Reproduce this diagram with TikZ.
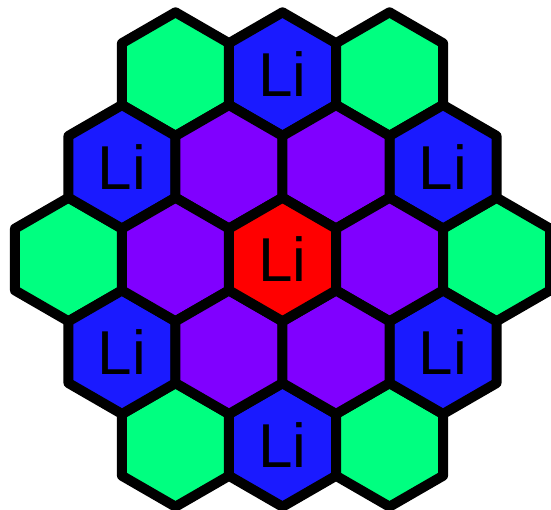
\documentclass[tikz,border=0pt]{standalone}
\usepackage{fontspec}
\setmainfont{Liberation Sans}
\usetikzlibrary{shapes.geometric}
\definecolor{ringgreen}{RGB}{0,255,128}
\definecolor{liblue}{RGB}{26,26,255}
\definecolor{ringpurple}{RGB}{128,0,255}
\definecolor{lired}{RGB}{255,0,0}

\begin{document}
\begin{tikzpicture}[x=1pt, y=1pt,
    hexcell/.style={regular polygon, regular polygon sides=6,
      shape border rotate=30, minimum size=123.6pt, inner sep=0pt,
      draw=black, line width=10pt, line join=round,
      font=\fontsize{62}{62}\selectfont}]
  \useasboundingbox (0,0) rectangle (551,510);

  % outer ring, empty sites
  \foreach [count=\i] \q/\r in {-2/2, 2/2, -4/0, 4/0, -2/-2, 2/-2}
    \node[hexcell, fill=ringgreen] (g\i) at ({282.5+53.5*\q},{250.5+92.7*\r}) {};
  % outer ring, Li sites
  \foreach [count=\i] \q/\r in {0/2, -3/1, 3/1, -3/-1, 3/-1, 0/-2}
    \node[hexcell, fill=liblue] (b\i) at ({282.5+53.5*\q},{250.5+92.7*\r}) {Li};
  % inner ring
  \foreach [count=\i] \q/\r in {-1/1, 1/1, -2/0, 2/0, -1/-1, 1/-1}
    \node[hexcell, fill=ringpurple] (p\i) at ({282.5+53.5*\q},{250.5+92.7*\r}) {};
  % centre site
  \node[hexcell, fill=lired] (c) at (282.5,250.5) {Li};
\end{tikzpicture}
\end{document}
